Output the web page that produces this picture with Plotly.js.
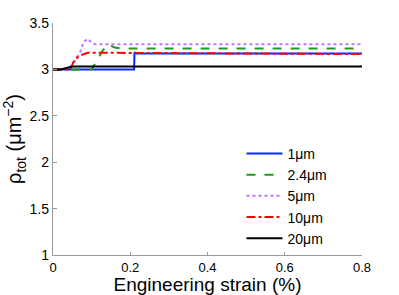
<!DOCTYPE html>
<html><head><meta charset="utf-8">
<script src="https://cdn.plot.ly/plotly-3.0.1.min.js"></script>
<style>html,body{margin:0;padding:0;background:#fff}#chart{width:399px;height:295px}</style>
</head><body><div id="chart"></div>
<script>
const names = ["1\u03bcm","2.4\u03bcm","5\u03bcm","10\u03bcm","20\u03bcm"];
const x1 = [0, 0.21, 0.211, 0.216, 0.8];
const y1 = [3.0, 3.0, 3.185, 3.17, 3.17];
const x2 = [0, 0.1, 0.112, 0.128, 0.143, 0.16, 0.175, 0.8];
const y2 = [3.0, 3.0, 3.08, 3.2, 3.27, 3.235, 3.225, 3.225];
const x3 = [0, 0.04, 0.055, 0.07, 0.08, 0.09, 0.1, 0.11, 0.8];
const y3 = [3.0, 3.0, 3.08, 3.18, 3.3, 3.33, 3.29, 3.27, 3.27];
const x4 = [0, 0.045, 0.055, 0.07, 0.09, 0.8];
const y4 = [3.0, 3.0, 3.1, 3.15, 3.18, 3.165];
const x5 = [0, 0.02, 0.05, 0.8];
const y5 = [3.0, 3.0, 3.03, 3.03];

const colors = ["#0a28ff","#1e9b1e","#b878ff","#ff0000","#000000"];
const dashes = ["solid","dash","dot","dashdot","solid"];
const xs=[x1,x2,x3,x4,x5], ys=[y1,y2,y3,y4,y5];
const traces = xs.map((x,i)=>({x:x,y:ys[i],name:names[i],type:"scatter",mode:"lines",
  line:{color:colors[i],width:2,dash:dashes[i]}}));

const font = {family:"Liberation Sans, Arial, sans-serif",color:"#000"};
Plotly.newPlot("chart",traces,{
  width:399,height:295,
  margin:{l:53,r:37,t:23,b:40},
  paper_bgcolor:"#fff",plot_bgcolor:"#fff",
  font:Object.assign({size:13},font),
  showlegend:true,
  legend:{x:0.61,y:0.505,xanchor:"left",yanchor:"top",bgcolor:"rgba(0,0,0,0)",
    font:Object.assign({size:14},font),tracegroupgap:0,itemwidth:36},
  xaxis:{range:[0,0.8],tickvals:[0,0.2,0.4,0.6,0.8],ticktext:["0","0.2","0.4","0.6","0.8"],
    showgrid:false,zeroline:false,showline:true,linecolor:"#999",linewidth:1.2,
    ticks:"inside",ticklen:3,tickcolor:"#999",tickfont:Object.assign({size:13},font),
    title:{text:"Engineering strain (%)",font:Object.assign({size:19},font),standoff:5}},
  yaxis:{range:[1,3.5],tickvals:[1,1.5,2,2.5,3,3.5],ticktext:["1","1.5","2","2.5","3","3.5"],
    showgrid:false,zeroline:false,showline:true,linecolor:"#999",linewidth:1.2,
    ticks:"inside",ticklen:4,tickcolor:"#999",tickfont:Object.assign({size:14},font),
    title:{text:"\u03c1<sub>tot</sub> (\u03bcm<sup>\u22122</sup>)",font:Object.assign({size:20},font),standoff:4}}
},{displayModeBar:false,staticPlot:true});
</script></body></html>
